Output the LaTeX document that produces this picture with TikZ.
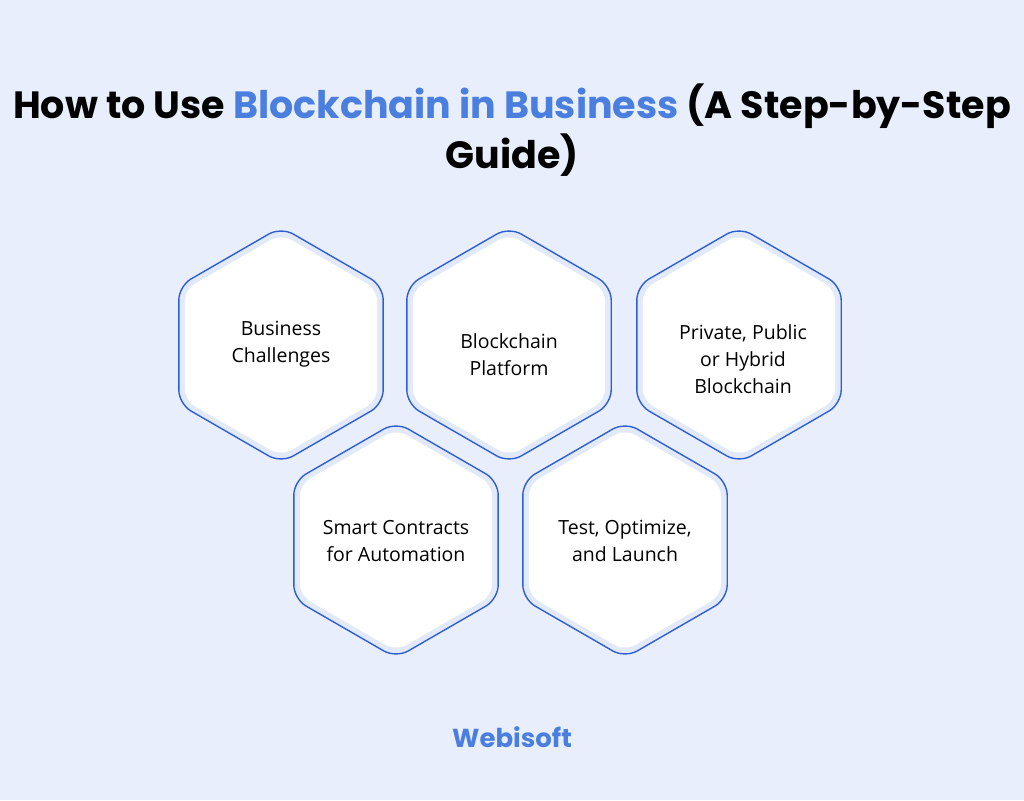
\documentclass[tikz,border=0pt]{standalone}
\usepackage{fontspec}
\setmainfont{Open Sans}
\newfontfamily\titlefont{Poppins}
\usetikzlibrary{shapes.geometric}
\definecolor{bg}{HTML}{E8EEFB}
\definecolor{band}{HTML}{E2E9F9}
\definecolor{edge}{HTML}{2F5FD3}
\definecolor{accent}{HTML}{4A7FE0}
\tikzset{
 hexo/.style={regular polygon, regular polygon sides=6, shape border rotate=30, minimum size=236pt, rounded corners=14pt, draw=edge, line width=1.4pt, fill=band, inner sep=0pt},
 hexi/.style={regular polygon, regular polygon sides=6, shape border rotate=30, minimum size=222pt, rounded corners=12pt, fill=white, inner sep=0pt},
 lbl/.style={font=\fontsize{19.5}{27}\selectfont, align=center, text=black},
}
\begin{document}
\begin{tikzpicture}[x=1pt,y=1pt]
\fill[bg] (0,0) rectangle (1024,800);
\useasboundingbox (0,0) rectangle (1024,800);
\node[font=\titlefont\bfseries\fontsize{38}{50}\selectfont, align=center] (title) at (512,670)
 {How to Use \textcolor{accent}{Blockchain in Business} (A Step-by-Step\\Guide)};
\foreach \n/\x/\y in {a/281/455, b/509/455, c/739/455, d/396/260, e/625/260}{
 \node[hexo] (\n o) at (\x,\y) {};
 \node[hexi] (\n i) at (\x,\y) {};
}
\node[lbl] (a) at (281,456) {Business\\Challenges};
\node[lbl] (b) at (509,445) {Blockchain\\Platform};
\node[lbl] (c) at (743,441) {Private, Public\\or Hybrid\\Blockchain};
\node[lbl] (d) at (396,259) {Smart Contracts\\for Automation};
\node[lbl] (e) at (625,259) {Test, Optimize,\\and Launch};
\node[font=\titlefont\bfseries\fontsize{26}{32}\selectfont, text=accent] (logo) at (512,63) {Webisoft};
\end{tikzpicture}
\end{document}
